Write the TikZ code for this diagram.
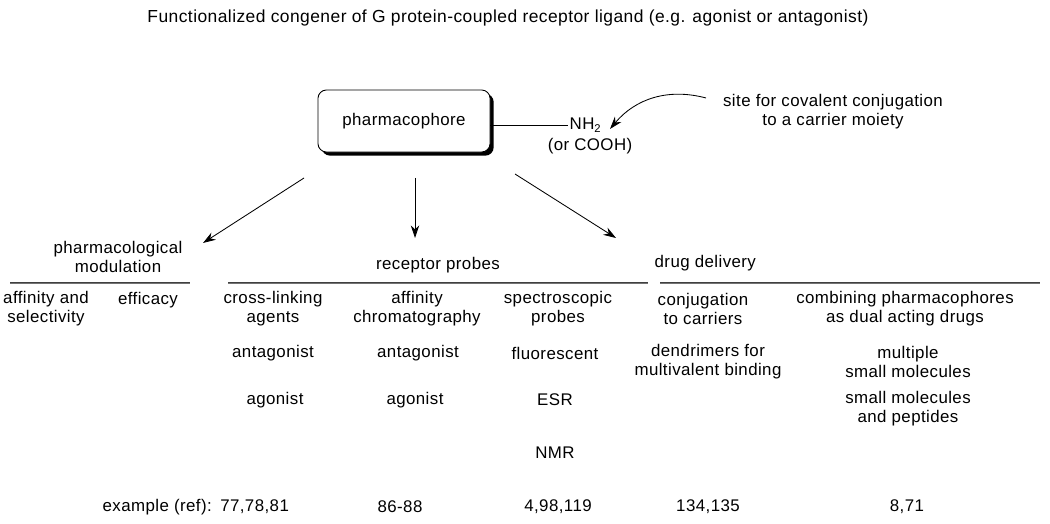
\documentclass[tikz,border=0pt]{standalone}
\usepackage{fontspec}
\setmainfont[LetterSpace=2.5]{Liberation Sans}
\usetikzlibrary{arrows.meta,shadows}

\begin{document}
\begin{tikzpicture}[x=0.025cm,y=-0.025cm,
    every node/.style={font=\fontsize{12}{13.5}\selectfont, inner sep=1pt},
    cell/.style={align=center},
    arr/.style={-{Stealth[length=9pt,width=6pt]}, line width=0.6pt},
    rule/.style={draw=black!75, double=black!55, double distance=0.6pt, line width=0.7pt},
    pbox/.style={draw, rounded corners=6pt, fill=white, line width=0.6pt,
        minimum width=4.3cm, minimum height=1.55cm,
        drop shadow={shadow xshift=2.6pt, shadow yshift=-2.6pt, fill=black, opacity=1}}]
    \useasboundingbox (0,0) rectangle (1050,524);

    % title
    \node[font=\fontsize{12.4}{14}\selectfont] (title) at (508,18) {Functionalized congener of G protein-coupled receptor ligand (e.g. agonist or antagonist)};

    % pharmacophore and its handle
    \node[pbox] (pharm) at (404,121) {pharmacophore};
    \node[anchor=west] (nh2) at (568,125) {NH\textsubscript{2}};
    \node (cooh) at (590,146) {(or COOH)};
    \draw[line width=0.6pt] (pharm.east |- nh2) -- (nh2.west);

    \node[cell] (site) at (833,112) {site for covalent conjugation\\to a carrier moiety};
    \coordinate (sitetail) at (706,98);
    \coordinate (nh2tip) at (610,129);
    \draw[arr] (sitetail) to[out=165,in=50] (nh2tip);

    % the three branches
    \coordinate (b1) at (304,178);
    \coordinate (b1tip) at (203,243);
    \coordinate (b2) at (415,178);
    \coordinate (b2tip) at (415,238);
    \coordinate (b3) at (515,174);
    \coordinate (b3tip) at (616,238);
    \draw[arr] (b1) -- (b1tip);
    \draw[arr] (b2) -- (b2tip);
    \draw[arr] (b3) -- (b3tip);

    % headings
    \node[cell] (pmod) at (118,257) {pharmacological\\modulation};
    \node (rprobes) at (438,265) {receptor probes};
    \node[anchor=west] (ddel) at (653,263) {drug delivery};
    \draw[rule] (10,283) -- (190,283);
    \draw[rule] (228,283) -- (648,283);
    \draw[rule] (660,283) -- (1040,283);

    % categories
    \node[cell] (affsel) at (46,309) {affinity and\\selectivity};
    \node (effic) at (148,300) {efficacy};
    \node[cell] (xlink) at (273,309) {cross-linking\\agents};
    \node[cell] (affchrom) at (417,309) {affinity\\chromatography};
    \node[cell] (spec) at (558,309) {spectroscopic\\probes};
    \node[cell] (conj) at (703,309) {conjugation\\to carriers};
    \node[cell] (comb) at (905,309) {combining pharmacophores\\as dual acting drugs};

    % examples
    \node (xant) at (273,353) {antagonist};
    \node (chant) at (418,353) {antagonist};
    \node (fluo) at (555,353) {fluorescent};
    \node[cell] (dendr) at (708,362) {dendrimers for\\multivalent binding};
    \node[cell] (multi) at (908,362) {multiple\\small molecules};
    \node (xag) at (275,400) {agonist};
    \node (chag) at (415,400) {agonist};
    \node (esr) at (555,400) {ESR};
    \node[cell] (smpep) at (908,409) {small molecules\\and peptides};
    \node (nmr) at (555,453) {NMR};

    % references
    \node[anchor=west] (refxl) at (101,507) {example (ref):\enspace 77,78,81};
    \node (refch) at (400,507) {86-88};
    \node (refsp) at (558,507) {4,98,119};
    \node (refcj) at (708,507) {134,135};
    \node (refcb) at (907,507) {8,71};
\end{tikzpicture}
\end{document}
